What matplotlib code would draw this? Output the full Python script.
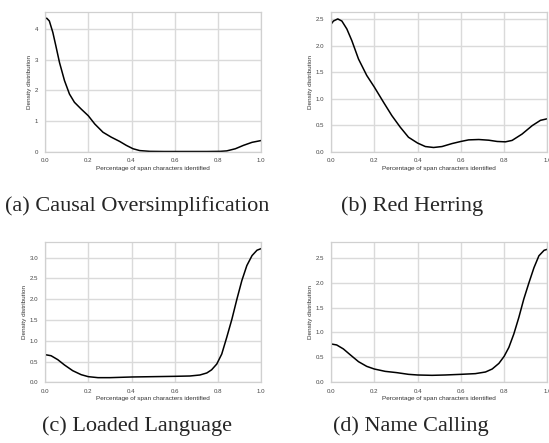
import numpy as np
import matplotlib
matplotlib.use('Agg')
import matplotlib.pyplot as plt
import seaborn as sns

sns.set_style('whitegrid')
plt.rcParams['font.family'] = ['Liberation Sans', 'DejaVu Sans']

# Kurven (x = Anteil, y = Dichte)
x_a = [0.0, 0.008, 0.02, 0.036, 0.05, 0.067, 0.09, 0.113, 0.136, 0.167, 0.2, 0.23,
       0.268, 0.306, 0.345, 0.376, 0.407, 0.438, 0.485, 0.55, 0.65, 0.75, 0.81,
       0.84, 0.88, 0.917, 0.957, 1.0]
y_a = [4.35, 4.36, 4.27, 3.9, 3.46, 2.91, 2.32, 1.88, 1.61, 1.39, 1.17, 0.9,
       0.63, 0.47, 0.33, 0.2, 0.09, 0.03, 0.005, 0.0, 0.0, 0.0, 0.005,
       0.02, 0.09, 0.2, 0.3, 0.36]

x_b = [0.0, 0.011, 0.031, 0.05, 0.073, 0.096, 0.127, 0.165, 0.2, 0.243, 0.281, 0.32,
       0.358, 0.4, 0.436, 0.474, 0.513, 0.559, 0.6, 0.636, 0.683, 0.729, 0.768,
       0.806, 0.837, 0.883, 0.93, 0.968, 1.0]
y_b = [2.41, 2.47, 2.51, 2.47, 2.32, 2.1, 1.75, 1.44, 1.22, 0.93, 0.68, 0.46,
       0.27, 0.16, 0.094, 0.076, 0.094, 0.15, 0.19, 0.22, 0.227, 0.214, 0.19,
       0.183, 0.21, 0.33, 0.49, 0.59, 0.62]

x_c = [0.0, 0.028, 0.059, 0.09, 0.128, 0.167, 0.2, 0.245, 0.3, 0.4, 0.5, 0.6,
       0.67, 0.716, 0.748, 0.77, 0.794, 0.817, 0.84, 0.864, 0.887, 0.91, 0.933,
       0.957, 0.98, 1.0]
y_c = [0.666, 0.64, 0.545, 0.417, 0.28, 0.184, 0.136, 0.112, 0.112, 0.128, 0.136, 0.144,
       0.152, 0.176, 0.225, 0.3, 0.44, 0.68, 1.08, 1.52, 2.0, 2.45, 2.81,
       3.05, 3.18, 3.22]

x_d = [0.0, 0.026, 0.057, 0.088, 0.127, 0.165, 0.2, 0.25, 0.304, 0.358, 0.4, 0.467,
       0.528, 0.6, 0.667, 0.714, 0.745, 0.776, 0.8, 0.822, 0.845, 0.868, 0.891,
       0.915, 0.938, 0.961, 0.985, 1.0]
y_d = [0.77, 0.75, 0.67, 0.555, 0.414, 0.32, 0.267, 0.22, 0.194, 0.16, 0.147, 0.14,
       0.147, 0.16, 0.174, 0.207, 0.267, 0.38, 0.52, 0.7, 0.97, 1.3, 1.67,
       2.0, 2.3, 2.54, 2.65, 2.67]

captions = ['(a) Causal Oversimplification', '(b) Red Herring',
            '(c) Loaded Language', '(d) Name Calling']
curves = [(x_a, y_a), (x_b, y_b), (x_c, y_c), (x_d, y_d)]
y_ticks = [[0, 1, 2, 3, 4], [0.0, 0.5, 1.0, 1.5, 2.0, 2.5],
           [0.0, 0.5, 1.0, 1.5, 2.0, 2.5, 3.0], [0.0, 0.5, 1.0, 1.5, 2.0, 2.5]]
y_max = [4.58, 2.65, 3.37, 2.81]

fig = plt.figure(figsize=(5.49, 4.43), dpi=100)
positions = [[0.082, 0.658, 0.394, 0.316], [0.603, 0.658, 0.394, 0.316],
             [0.082, 0.137, 0.394, 0.316], [0.603, 0.137, 0.394, 0.316]]
caption_pos = [(0.249, 0.535), (0.75, 0.535), (0.249, 0.038), (0.748, 0.038)]

for i in range(4):
    ax = fig.add_axes(positions[i])
    xs, ys = curves[i]
    ax.plot(xs, ys, color='black', linewidth=1.1)
    ax.set_xlim(0, 1)
    ax.set_ylim(0, y_max[i])
    ax.set_xticks([0.0, 0.2, 0.4, 0.6, 0.8, 1.0])
    ax.set_xticklabels(['0.0', '0.2', '0.4', '0.6', '0.8', '1.0'])
    ax.set_yticks(y_ticks[i])
    if i == 0:
        ax.set_yticklabels([str(t) for t in y_ticks[i]])
    else:
        ax.set_yticklabels(['%.1f' % t for t in y_ticks[i]])
    ax.tick_params(labelsize=4.4, pad=1.5, colors='#444444')
    ax.set_xlabel('Percentage of span characters identified', fontsize=4.6, labelpad=1.5, color='#333333')
    ax.set_ylabel('Density distribution', fontsize=4.6, labelpad=2, color='#333333')
    ax.grid(color='#dadada', linewidth=1.0)
    for s in ax.spines.values():
        s.set_color('#d0d0d0')
        s.set_linewidth(0.9)
    fig.text(caption_pos[i][0], caption_pos[i][1], captions[i], ha='center', va='center',
             fontsize=16, family='Liberation Serif')

plt.savefig('out.png', dpi=100)
